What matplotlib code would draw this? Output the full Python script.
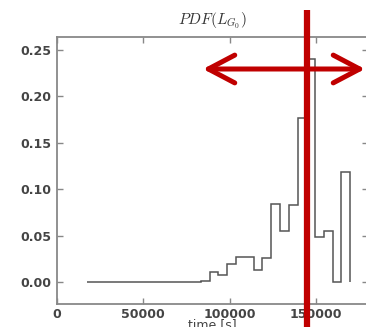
import numpy as np
import matplotlib
matplotlib.use("Agg")
import matplotlib.pyplot as plt

plt.rcParams["mathtext.fontset"] = "cm"

# ---- data ----
bin_start = 17400.0
bin_end = 169700.0
n_bins = 30
probabilities = [0, 0, 0, 0, 0, 0, 0, 0, 0, 0, 0, 0, 0,
                 0.0014, 0.011, 0.0078, 0.020, 0.0275, 0.0275, 0.013,
                 0.026, 0.084, 0.055, 0.083, 0.177, 0.240, 0.049, 0.055,
                 0.0, 0.119]
x_ticks = [0, 50000, 100000, 150000]
y_ticks = [0.00, 0.05, 0.10, 0.15, 0.20, 0.25]
title_text = r"$PDF(L_{G_0})$"
xlabel_text = "time [s]"

edges = np.linspace(bin_start, bin_end, n_bins + 1)

W, H = 366, 327
fig = plt.figure(figsize=(W / 100, H / 100), dpi=100)
ax = fig.add_axes([56.7 / W, (H - 304) / H, 311.3 / W, 267.3 / H])

ax.stairs(probabilities, edges, baseline=0, fill=False, color="#555555", lw=1.1)

ax.set_xlim(0, 180000)
ax.set_ylim(-0.02336, 0.2643)
ax.set_xticks(x_ticks)
ax.set_xticklabels([str(t) for t in x_ticks])
ax.set_yticks(y_ticks)
ax.set_yticklabels([f"{t:.2f}" for t in y_ticks])
ax.tick_params(direction="in", length=4, width=1, color="#888888",
               top=True, right=True, labelsize=9, labelcolor="#444444", pad=4)
ax.tick_params(axis="x", pad=3)
for lbl in ax.get_xticklabels() + ax.get_yticklabels():
    lbl.set_fontweight("semibold")
for s in ax.spines.values():
    s.set_color("#888888")
    s.set_linewidth(1.3)

ax.set_title(title_text, fontsize=11, color="#333333", pad=9)
ax.set_xlabel(xlabel_text, fontsize=9, color="#444444", labelpad=-2)

# ---- red overlay annotations (figure pixel coordinates) ----
red = "#C00000"
tr = fig.transFigure
fig.add_artist(plt.Line2D([307 / W, 307 / W], [1 - 9.5 / H, 0], transform=tr,
                          color=red, lw=4.5, solid_capstyle="butt"))
fig.add_artist(matplotlib.patches.FancyArrowPatch(
    (203 / W, 1 - 69 / H), (365 / W, 1 - 69 / H), transform=tr,
    arrowstyle="<->,head_length=19,head_width=10",
    color=red, lw=3.6, capstyle="round", joinstyle="round",
    shrinkA=0, shrinkB=0, mutation_scale=1))

fig.savefig("out.png", dpi=100)
